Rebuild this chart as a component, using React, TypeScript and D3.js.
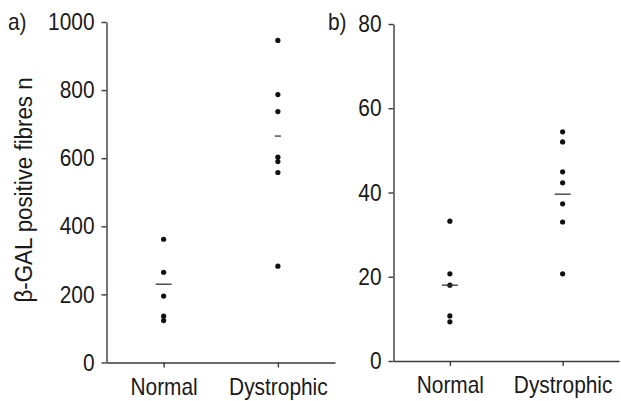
import React, { useRef, useEffect } from "react";
import * as d3 from "d3";

// categories and read-off values
const groups = ["Normal", "Dystrophic"];
const panelLabels = ["a)", "b)"];
const yLabel = "β-GAL positive fibres n";

const aTicks = [0, 200, 400, 600, 800, 1000];
const aNormal = [362, 265, 195, 136, 123];
const aDystrophic = [946, 787, 737, 603, 590, 558, 283];
const aMeans = [230, 665];

const bTicks = [0, 20, 40, 60, 80];
const bNormal = [33.2, 20.7, 18.0, 10.7, 9.3];
const bDystrophic = [54.4, 52.0, 44.9, 42.3, 37.3, 33.0, 20.7];
const bMeans = [18.0, 39.6];

export default function App() {
  const ref = useRef<SVGSVGElement | null>(null);

  useEffect(() => {
    if (!ref.current) return;
    const svg = d3.select(ref.current);
    svg.selectAll("*").remove();

    const font = "'Liberation Sans', Arial, sans-serif";
    const axisColor = "#3a3a3a";
    const fs = 24;
    const sx = 0.87; // squeeze to look like a condensed face

    const panels = [
      {
        label: panelLabels[0], labelX: 8, ticks: aTicks, values: [aNormal, aDystrophic], means: aMeans,
        meanHalf: [8, 3], xRange: [106.5, 335], yRange: [362.5, 22],
      },
      {
        label: panelLabels[1], labelX: 328, ticks: bTicks, values: [bNormal, bDystrophic], means: bMeans,
        meanHalf: [8, 8], xRange: [393.5, 619], yRange: [361, 24],
      },
    ];

    panels.forEach(p => {
      const x = d3.scalePoint<string>().domain(groups).range(p.xRange as [number, number]).padding(0.5);
      const y = d3.scaleLinear().domain([0, d3.max(p.ticks)!]).range(p.yRange as [number, number]);
      const g = svg.append("g");

      const yAxis = g.append("g")
        .attr("transform", `translate(${p.xRange[0]},0)`)
        .call(d3.axisLeft(y).tickValues(p.ticks).tickSize(5).tickSizeOuter(0).tickPadding(7).tickFormat(d3.format("d")));
      const xAxis = g.append("g")
        .attr("transform", `translate(0,${p.yRange[0]})`)
        .call(d3.axisBottom(x).tickSize(5).tickSizeOuter(0).tickPadding(10));

      [yAxis, xAxis].forEach(a => {
        a.selectAll("path,line").attr("stroke", axisColor).attr("stroke-width", 1.4);
        a.selectAll<SVGTextElement, unknown>("text")
          .attr("fill", "#1a1a1a")
          .attr("font-family", font)
          .attr("font-size", fs)
          .attr("x", function () { return +(this.getAttribute("x") || 0) / sx; })
          .attr("transform", `scale(${sx},1)`);
      });

      g.append("text")
        .attr("transform", `translate(${p.labelX},30) scale(${sx},1)`)
        .attr("fill", "#1a1a1a")
        .attr("font-family", font)
        .attr("font-size", fs)
        .text(p.label);

      groups.forEach((grp, i) => {
        g.append("g")
          .selectAll("circle")
          .data(p.values[i])
          .join("circle")
          .attr("cx", x(grp)!)
          .attr("cy", d => y(d))
          .attr("r", 2.6)
          .attr("fill", "#111");

        g.append("line")
          .attr("x1", x(grp)! - p.meanHalf[i])
          .attr("x2", x(grp)! + p.meanHalf[i])
          .attr("y1", y(p.means[i]))
          .attr("y2", y(p.means[i]))
          .attr("stroke", "#333")
          .attr("stroke-width", 1.3);
      });
    });

    svg.append("text")
      .attr("transform", "translate(32,190) rotate(-90) scale(0.93,1)")
      .attr("text-anchor", "middle")
      .attr("fill", "#1a1a1a")
      .attr("font-family", font)
      .attr("font-size", fs)
      .text(yLabel);
  }, []);

  return (
    <svg
      ref={ref}
      width={621}
      height={401}
      style={{ position: "absolute", left: 0, top: 0, background: "#fff" }}
    />
  );
}
